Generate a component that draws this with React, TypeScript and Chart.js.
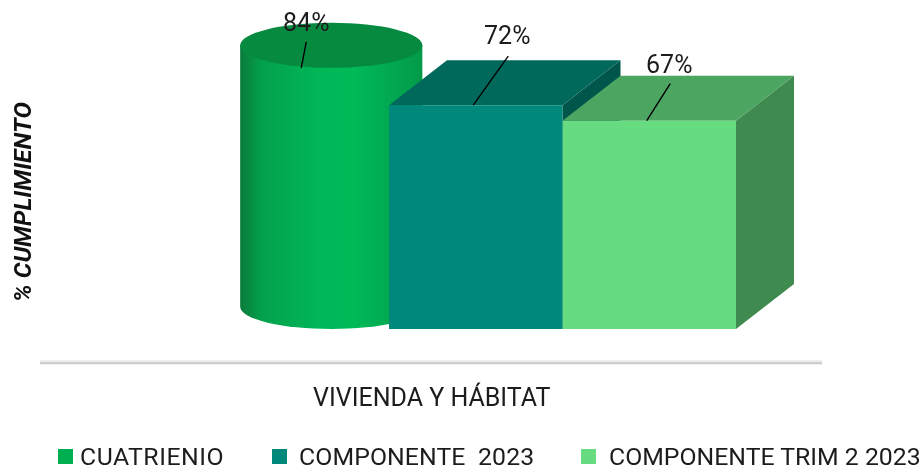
import React, { useEffect, useRef } from "react";
import { Chart, registerables } from "chart.js";

Chart.register(...registerables);

const categories = ["VIVIENDA Y HÁBITAT"];
const seriesNames = ["CUATRIENIO", "COMPONENTE  2023", "COMPONENTE TRIM 2 2023"];
const cuatrienio = [84];
const componente2023 = [72];
const componenteTrim2 = [67];
const frontColors = ["#00B050", "#00897B", "#66DB80"];
const topColors = ["#068A40", "#00695C", "#4CA561"];
const sideColors = ["#039A4A", "#00564B", "#3F8A4F"];
const legendLefts = [58, 272, 581];
const legendGaps = [7, 12, 13];
const legendSpacing = ["0.5px", "0.1px", "0px"];
// leader foot dx, leader head dx, leader head dy, label dx, label dy (from the bar's top centre)
const labelOffsets = [
  [-1, 4, -26, 4, -43],
  [-2.5, 32.5, -49, 31.5, -67],
  [-2.5, 21, -37, 20, -53.5],
];

const DEPTH_X = 58;
const DEPTH_Y = 45;
const FONT = "Roboto, sans-serif";
const TEXT = "#1c1c1c";

const shapes3d = {
  id: "shapes3d",
  beforeDatasetsDraw(chart: any) {
    const ctx = chart.ctx;
    const poly = (pts: number[][], fill: string) => {
      ctx.beginPath();
      pts.forEach(([x, y], i) => (i ? ctx.lineTo(x, y) : ctx.moveTo(x, y)));
      ctx.closePath();
      ctx.fillStyle = fill;
      ctx.fill();
    };
    const box = (i: number) => chart.getDatasetMeta(i).data[0];
    const zero = chart.scales.y.getPixelForValue(0);

    ctx.save();
    // floor line
    ctx.fillStyle = "#EDEDED";
    ctx.fillRect(40, 360, 782, 2);
    ctx.fillStyle = "#CFCFCF";
    ctx.fillRect(40, 362, 782, 2);
    ctx.fillStyle = "#EFEFEF";
    ctx.fillRect(40, 364, 782, 1);

    // cylinder, first series
    const b0 = box(0);
    const w = b0.width;
    const cx = b0.x + DEPTH_X / 2;
    const rx = (w + DEPTH_X * 0.15) / 2;
    const ry = DEPTH_Y / 2;
    const topY = b0.y - ry;
    const botY = zero - ry;
    const grad = ctx.createLinearGradient(cx - rx, 0, cx + rx, 0);
    grad.addColorStop(0, "#0B7B3B");
    grad.addColorStop(0.12, "#03A14D");
    grad.addColorStop(0.45, "#00B858");
    grad.addColorStop(0.62, "#00BA58");
    grad.addColorStop(1, "#039A4A");
    ctx.beginPath();
    ctx.moveTo(cx - rx, topY);
    ctx.lineTo(cx - rx, botY);
    ctx.ellipse(cx, botY, rx, ry, 0, Math.PI, 0, true);
    ctx.lineTo(cx + rx, topY);
    ctx.closePath();
    ctx.fillStyle = grad;
    ctx.fill();
    ctx.beginPath();
    ctx.ellipse(cx, topY, rx, ry, 0, 0, Math.PI * 2);
    ctx.fillStyle = topColors[0];
    ctx.fill();

    // box faces, second and third series
    [1, 2].forEach((i) => {
      const b = box(i);
      const l = b.x - b.width / 2;
      const r = b.x + b.width / 2;
      poly(
        [
          [r, b.y],
          [r + DEPTH_X, b.y - DEPTH_Y],
          [r + DEPTH_X, zero - DEPTH_Y],
          [r, zero],
        ],
        sideColors[i]
      );
      poly(
        [
          [l, b.y],
          [l + DEPTH_X, b.y - DEPTH_Y],
          [r + DEPTH_X, b.y - DEPTH_Y],
          [r, b.y],
        ],
        topColors[i]
      );
    });
    ctx.restore();
  },
  afterDatasetsDraw(chart: any) {
    const ctx = chart.ctx;
    ctx.save();
    chart.data.datasets.forEach((ds: any, i: number) => {
      const b = chart.getDatasetMeta(i).data[0];
      const [fx, hx, hy, tx, ty] = labelOffsets[i];
      ctx.beginPath();
      ctx.moveTo(b.x + fx, b.y);
      ctx.lineTo(b.x + hx, b.y + hy);
      ctx.strokeStyle = "#000";
      ctx.lineWidth = 1.4;
      ctx.stroke();
      ctx.font = `400 25px ${FONT}`;
      ctx.fillStyle = TEXT;
      ctx.textAlign = "center";
      ctx.textBaseline = "middle";
      ctx.fillText(`${ds.data[0]}%`, b.x + tx, b.y + ty);
    });
    ctx.restore();
  },
};

export default function App() {
  const ref = useRef<HTMLCanvasElement>(null);
  useEffect(() => {
    document.body.style.margin = "0";
    const ctx = ref.current!.getContext("2d") as any;
    ctx.letterSpacing = "0.3px";
    const chart = new Chart(ref.current!, {
      type: "bar",
      plugins: [shapes3d],
      data: {
        labels: categories,
        datasets: [
          { label: seriesNames[0], data: cuatrienio, backgroundColor: "transparent" },
          { label: seriesNames[1], data: componente2023, backgroundColor: frontColors[1] },
          { label: seriesNames[2], data: componenteTrim2, backgroundColor: frontColors[2] },
        ],
      },
      options: {
        responsive: false,
        animation: false,
        layout: { padding: { top: 42, right: 101 } },
        datasets: { bar: { barPercentage: 1, categoryPercentage: 0.7516, borderWidth: 0 } },
        plugins: { legend: { display: false }, tooltip: { enabled: false } },
        scales: {
          x: {
            grid: { display: false },
            border: { display: false },
            afterFit: (s: any) => {
              s.height = 107;
            },
            ticks: {
              color: TEXT,
              font: { family: FONT, size: 25 },
              padding: 15,
              labelOffset: -44,
              maxRotation: 0,
            },
          },
          y: {
            min: -10.6,
            max: 92.3,
            grid: { display: false },
            border: { display: false },
            ticks: { display: false },
            afterFit: (s: any) => {
              s.width = 129.5;
            },
            title: {
              display: true,
              text: "% CUMPLIMIENTO",
              color: "#111",
              font: { family: FONT, size: 24.6, weight: "bold", style: "italic" },
              padding: { top: 10, bottom: 0 },
            },
          },
        },
      } as any,
    });
    return () => chart.destroy();
  }, []);
  return (
    <div style={{ position: "relative", width: 923, height: 469, overflow: "hidden" }}>
      <canvas ref={ref} width={923} height={469} style={{ display: "block" }} />
      {seriesNames.map((name, i) => (
        <div
          key={name}
          style={{
            position: "absolute",
            left: legendLefts[i],
            top: 441,
            height: 30,
            display: "flex",
            alignItems: "center",
            whiteSpace: "pre",
            font: `400 24.8px ${FONT}`,
            letterSpacing: legendSpacing[i],
            color: TEXT,
          }}
        >
          <span
            style={{
              width: 15,
              height: 15,
              marginRight: legendGaps[i],
              background: frontColors[i],
              display: "inline-block",
            }}
          />
          {name}
        </div>
      ))}
    </div>
  );
}
